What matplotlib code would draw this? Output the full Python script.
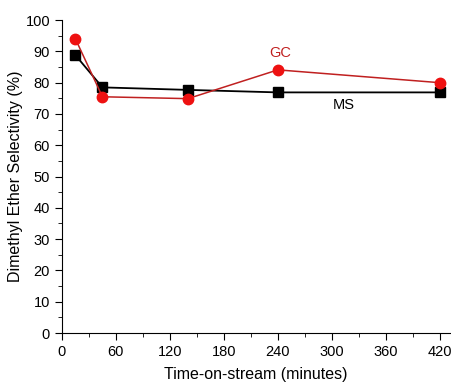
import matplotlib
matplotlib.use('Agg')
import matplotlib.pyplot as plt

plt.rcParams['font.family'] = ['Liberation Sans', 'DejaVu Sans']

time_min = [15, 45, 140, 240, 420]
ms_sel = [88.8, 78.5, 77.7, 76.9, 76.9]
gc_sel = [94.0, 75.5, 74.9, 84.1, 80.0]

fig = plt.figure(figsize=(4.52, 3.83), dpi=100)
ax = fig.add_axes([0.137, 0.1305, 0.858, 0.817])

ax.plot(time_min, ms_sel, color='black', marker='s', markersize=7, lw=1.3, zorder=3)
ax.plot(time_min, gc_sel, color='#c02020', marker='o', markersize=7.5,
        markerfacecolor='#ee1111', markeredgecolor='#ee1111', lw=1.1, zorder=4)

# series labels placed next to the curves
ax.text(243, 89.5, 'GC', color='#c02020', fontsize=10.5, ha='center', va='center')
ax.text(313, 72.8, 'MS', color='black', fontsize=10.5, ha='center', va='center')

ax.set_xlim(0, 431)
ax.set_ylim(0, 100)
ax.xaxis.set_major_locator(plt.MultipleLocator(60))
ax.xaxis.set_minor_locator(plt.MultipleLocator(30))
ax.yaxis.set_major_locator(plt.MultipleLocator(10))
ax.yaxis.set_minor_locator(plt.MultipleLocator(5))
ax.tick_params(which='major', direction='out', length=5, labelsize=10.5)
ax.tick_params(which='minor', direction='out', length=3)

for side in ['top', 'right']:
    ax.spines[side].set_visible(False)

ax.set_xlabel('Time-on-stream (minutes)', fontsize=11.5, labelpad=6)
ax.set_ylabel('Dimethyl Ether Selectivity (%)', fontsize=11.5, labelpad=2)

fig.savefig('out.png', dpi=100)
